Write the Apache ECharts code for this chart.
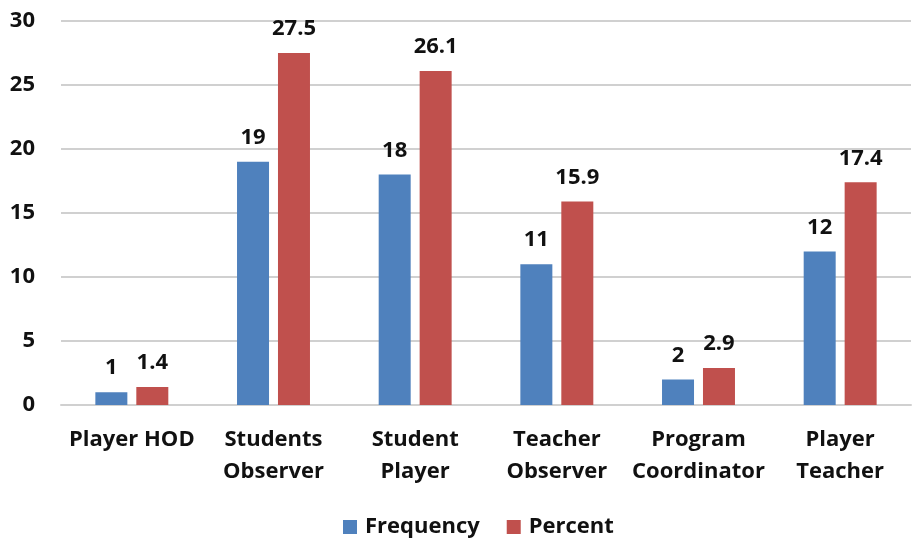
<!DOCTYPE html>
<html><head><meta charset="utf-8">
<script src="https://cdn.jsdelivr.net/npm/echarts@6/dist/echarts.min.js"></script>
<style>html,body{margin:0;padding:0;background:#fff}#c{width:913px;height:543px}</style>
</head><body><div id="c"></div>
<script>
const categories = ['Player HOD', 'Students\nObserver', 'Student\nPlayer', 'Teacher\nObserver', 'Program\nCoordinator', 'Player\nTeacher'];
const frequency = [1, 19, 18, 11, 2, 12];
const percent = [1.4, 27.5, 26.1, 15.9, 2.9, 17.4];
const seriesNames = ['Frequency', 'Percent'];
const colors = ['#4F81BD', '#C0504D'];

const font = '"Open Sans", sans-serif';
const chart = echarts.init(document.getElementById('c'), null, {renderer: 'canvas'});
const labelStyle = {show: true, position: 'top', distance: 13, color: '#111', fontWeight: 'bold', fontSize: 22, fontFamily: font};
chart.setOption({
  animation: false,
  grid: {left: 61, right: 2, top: 21, bottom: 138, containLabel: false},
  legend: {
    left: 338, bottom: 0, itemWidth: 14, itemHeight: 14, itemGap: 27,
    icon: 'rect',
    textStyle: {fontSize: 22, fontWeight: 'bold', fontFamily: font, color: '#111', padding: [0, 0, 0, 3]},
    data: seriesNames
  },
  xAxis: {
    type: 'category', data: categories,
    axisLine: {show: true, lineStyle: {color: '#d0d0d0', width: 2}},
    axisTick: {show: false},
    axisLabel: {interval: 0, margin: 19, color: '#111', fontSize: 22, fontWeight: 'bold', fontFamily: font, lineHeight: 32}
  },
  yAxis: {
    type: 'value', min: 0, max: 30, interval: 5,
    axisLine: {show: false}, axisTick: {show: false},
    splitLine: {lineStyle: {color: '#d0d0d0', width: 2}},
    axisLabel: {margin: 26, color: '#111', fontSize: 22, fontWeight: 'bold', fontFamily: font}
  },
  series: [
    {name: seriesNames[0], type: 'bar', data: frequency, barWidth: 32, barGap: '28%', itemStyle: {color: colors[0]}, label: labelStyle},
    {name: seriesNames[1], type: 'bar', data: percent, barWidth: 32, itemStyle: {color: colors[1]}, label: labelStyle}
  ]
});
</script></body></html>
